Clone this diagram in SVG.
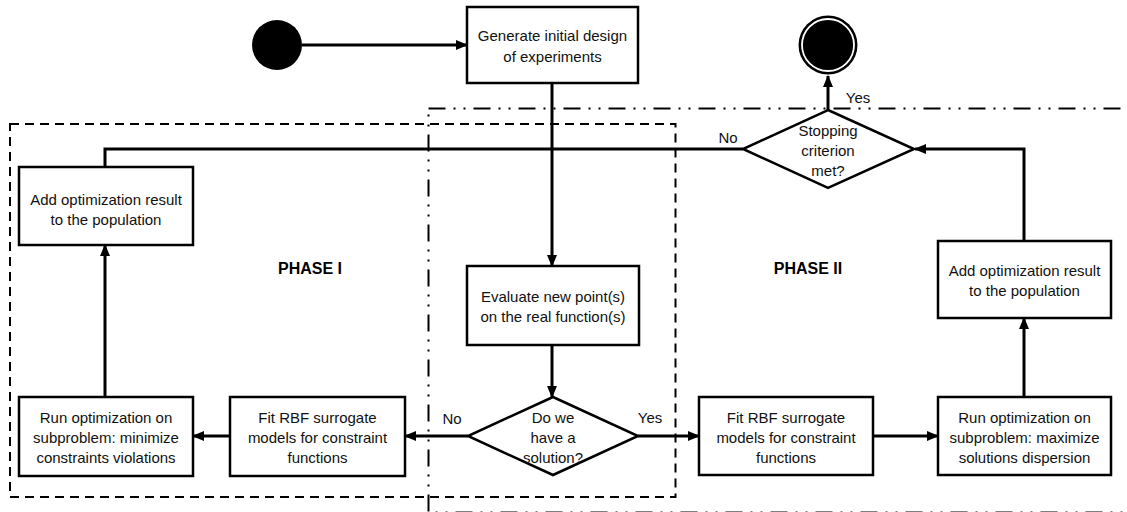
<svg xmlns="http://www.w3.org/2000/svg" width="1127" height="512" viewBox="0 0 1127 512">
<style>
.box{fill:#fff;stroke:#000;stroke-width:2.5}
.t{font-family:"Liberation Sans",Arial,sans-serif;font-size:15px;fill:#111;text-anchor:middle;dominant-baseline:central}
.ph{font-family:"Liberation Sans",Arial,sans-serif;font-size:16px;font-weight:bold;fill:#000;text-anchor:middle;dominant-baseline:central}
.c{fill:none;stroke:#000;stroke-width:3}
.ca{fill:none;stroke:#000;stroke-width:3;marker-end:url(#ah)}
</style>
<defs>
<marker id="ah" markerUnits="userSpaceOnUse" markerWidth="12" markerHeight="12" viewBox="0 0 12 12" refX="11" refY="6" orient="auto">
<path d="M0,1 L12,6 L0,11 Z" fill="#000"/>
</marker>
</defs>
<rect width="1127" height="512" fill="#fff"/>
<g id="phase2-region">
<rect x="428.5" y="108.5" width="720" height="404" fill="none" stroke="#000" stroke-width="2" stroke-dasharray="17 8 2 8 2 8"/>
</g>
<g id="phase1-region">
<rect x="10" y="124" width="665.5" height="373" fill="none" stroke="#000" stroke-width="2" stroke-dasharray="9 6"/>
</g>
<g id="connectors">
<line class="ca" x1="302" y1="45" x2="467" y2="45"/>
<line class="ca" x1="552" y1="83" x2="552" y2="266"/>
<line class="ca" x1="552" y1="345" x2="552" y2="397"/>
<line class="ca" x1="468" y1="436" x2="405" y2="436"/>
<line class="ca" x1="230" y1="436" x2="193" y2="436"/>
<line class="ca" x1="105" y1="397" x2="105" y2="245"/>
<polyline class="c" points="743,149 105,149 105,167"/>
<line class="ca" x1="638" y1="436" x2="699" y2="436"/>
<line class="ca" x1="873" y1="436" x2="938" y2="436"/>
<line class="ca" x1="1024" y1="397" x2="1024" y2="318"/>
<polyline class="ca" points="1024,241 1024,149 915,149"/>
<line class="ca" x1="828" y1="110" x2="828" y2="76"/>
<text class="t" x="452" y="418">No</text>
<text class="t" x="650" y="417">Yes</text>
<text class="t" x="728" y="137">No</text>
<text class="t" x="858" y="97">Yes</text>
</g>
<g id="start"><circle cx="277" cy="45" r="25" fill="#000"/></g>
<g id="end">
<circle cx="828" cy="45" r="29.5" fill="#000"/>
<circle cx="828" cy="45" r="26" fill="none" stroke="#fff" stroke-width="1.8"/>
</g>
<g id="generate">
<rect class="box" x="467" y="7" width="171" height="76"/>
<text class="t" x="552.5" y="35">Generate initial design</text>
<text class="t" x="552.5" y="56">of experiments</text>
</g>
<g id="evaluate">
<rect class="box" x="467" y="266" width="172" height="79"/>
<text class="t" x="553" y="296">Evaluate new point(s)</text>
<text class="t" x="553" y="316">on the real function(s)</text>
</g>
<g id="solution">
<polygon class="box" points="553,397 638,436 553,475 468,436"/>
<text class="t" x="553" y="417">Do we</text>
<text class="t" x="553" y="437">have a</text>
<text class="t" x="553" y="457">solution?</text>
</g>
<g id="stopping">
<polygon class="box" points="828,110 914,149 828,188 743,149"/>
<text class="t" x="828" y="130">Stopping</text>
<text class="t" x="828" y="150">criterion</text>
<text class="t" x="828" y="170">met?</text>
</g>
<g id="fit1">
<rect class="box" x="230" y="397" width="175" height="79"/>
<text class="t" x="317.5" y="417">Fit RBF surrogate</text>
<text class="t" x="317.5" y="437">models for constraint</text>
<text class="t" x="317.5" y="457">functions</text>
</g>
<g id="run1">
<rect class="box" x="19" y="397" width="174" height="79"/>
<text class="t" x="106" y="417">Run optimization on</text>
<text class="t" x="106" y="437">subproblem: minimize</text>
<text class="t" x="106" y="457">constraints violations</text>
</g>
<g id="add1">
<rect class="box" x="19" y="167" width="174" height="78"/>
<text class="t" x="106" y="199">Add optimization result</text>
<text class="t" x="106" y="219">to the population</text>
</g>
<g id="fit2">
<rect class="box" x="699" y="397" width="174" height="78"/>
<text class="t" x="786" y="417">Fit RBF surrogate</text>
<text class="t" x="786" y="437">models for constraint</text>
<text class="t" x="786" y="457">functions</text>
</g>
<g id="run2">
<rect class="box" x="938" y="397" width="173" height="78"/>
<text class="t" x="1024.5" y="417">Run optimization on</text>
<text class="t" x="1024.5" y="437">subproblem: maximize</text>
<text class="t" x="1024.5" y="457">solutions dispersion</text>
</g>
<g id="add2">
<rect class="box" x="938" y="241" width="173" height="77"/>
<text class="t" x="1024.5" y="270">Add optimization result</text>
<text class="t" x="1024.5" y="290">to the population</text>
</g>
<g id="labels">
<text class="ph" x="310" y="268">PHASE I</text>
<text class="ph" x="808" y="268">PHASE II</text>
</g>
</svg>
